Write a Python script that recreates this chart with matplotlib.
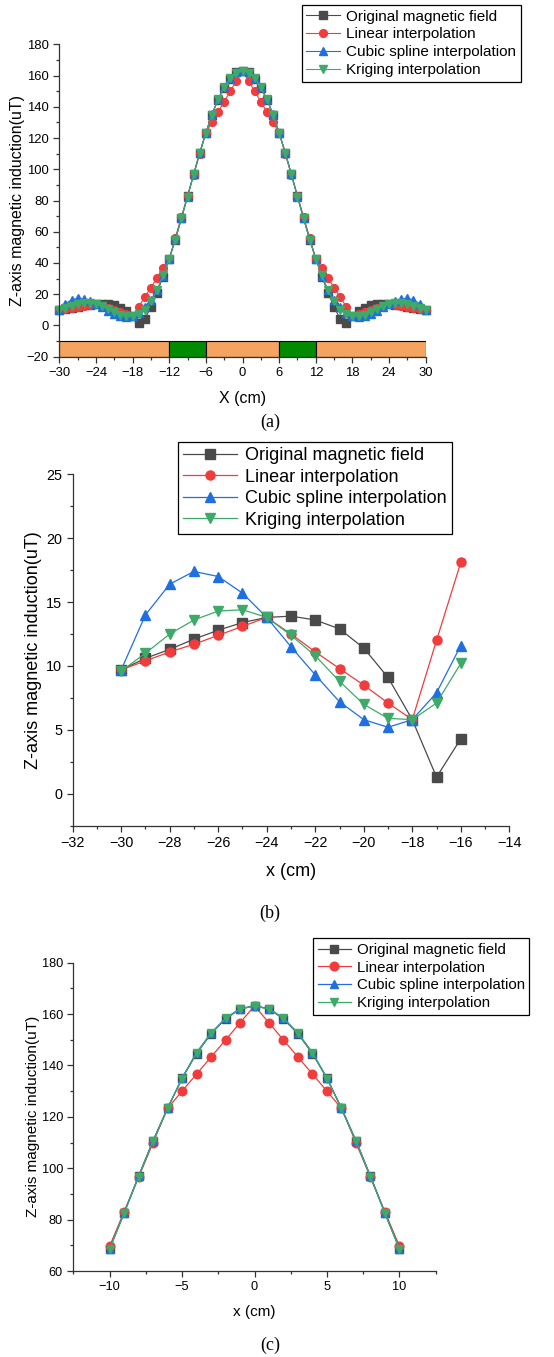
import matplotlib
matplotlib.use("Agg")
import matplotlib.pyplot as plt
from matplotlib.ticker import MultipleLocator
import numpy as np

plt.rcParams['font.family'] = ['Liberation Sans', 'DejaVu Sans']

# ---------------- data ----------------
x_full = list(range(-30, 31))

original = [9.7, 10.6, 11.3, 12.1, 12.8, 13.4, 13.8, 13.9, 13.6, 12.9, 11.4, 9.1, 5.8, 1.3, 4.3,
            11.7, 21.1, 31.3, 42.7, 54.8, 68.7, 82.6, 96.9, 110.6, 123.3, 135.0, 144.6, 152.3, 158.1, 162.0,
            163.2,
            162.0, 158.1, 152.3, 144.6, 135.0, 123.3, 110.6, 96.9, 82.6, 68.7, 54.8, 42.7, 31.3, 21.1, 11.7,
            4.3, 1.3, 5.8, 9.1, 11.4, 12.9, 13.6, 13.9, 13.8, 13.4, 12.8, 12.1, 11.3, 10.6, 9.7]

linear = [9.7, 10.4, 11.1, 11.7, 12.4, 13.1, 13.8, 12.5, 11.1, 9.8, 8.5, 7.1, 5.8, 12.0, 18.1,
          24.3, 30.4, 36.6, 42.7, 56.1, 69.6, 83.0, 96.4, 109.9, 123.3, 130.0, 136.6, 143.3, 149.9, 156.6,
          163.2,
          156.6, 149.9, 143.3, 136.6, 130.0, 123.3, 109.9, 96.4, 83.0, 69.6, 56.1, 42.7, 36.6, 30.4, 24.3,
          18.1, 12.0, 5.8, 7.1, 8.5, 9.8, 11.1, 12.5, 13.8, 13.1, 12.4, 11.7, 11.1, 10.4, 9.7]

cubic = [9.7, 14.0, 16.4, 17.4, 17.0, 15.7, 13.8, 11.5, 9.3, 7.2, 5.8, 5.2, 5.8, 7.9, 11.6,
         16.2, 22.6, 31.8, 42.7, 55.3, 68.6, 82.5, 96.8, 110.7, 123.3, 135.1, 145.0, 152.6, 158.4, 162.1,
         163.2,
         162.1, 158.4, 152.6, 145.0, 135.1, 123.3, 110.7, 96.8, 82.5, 68.6, 55.3, 42.7, 31.8, 22.6, 16.2,
         11.6, 7.9, 5.8, 5.2, 5.8, 7.2, 9.3, 11.5, 13.8, 15.7, 17.0, 17.4, 16.4, 14.0, 9.7]

kriging = [9.6, 11.0, 12.5, 13.6, 14.3, 14.4, 13.8, 12.4, 10.8, 8.8, 7.0, 5.9, 5.8, 7.1, 10.2,
           15.4, 22.5, 32.0, 42.7, 55.0, 68.5, 82.4, 96.7, 110.5, 123.3, 134.9, 144.8, 152.5, 158.3, 161.9,
           163.2,
           161.9, 158.3, 152.5, 144.8, 134.9, 123.3, 110.5, 96.7, 82.4, 68.5, 55.0, 42.7, 32.0, 22.5, 15.4,
           10.2, 7.1, 5.8, 5.9, 7.0, 8.8, 10.8, 12.4, 13.8, 14.4, 14.3, 13.6, 12.5, 11.0, 9.6]

series_names = ["Original magnetic field", "Linear interpolation",
                "Cubic spline interpolation", "Kriging interpolation"]

# bottom strip in panel (a)
strip_edges = [-30, -12, -6, 6, 12, 30]
strip_colors = ["#F4A460", "#008B00", "#F4A460", "#008B00", "#F4A460"]

# ---------------- style ----------------
colors = ["#4A4A4A", "#F03C3C", "#1F6FE0", "#3DAA6A"]
markers = ["s", "o", "^", "v"]
all_series = [original, linear, cubic, kriging]

W, H = 554, 1357
fig = plt.figure(figsize=(W / 100, H / 100), dpi=100)


def ax_rect(l, r, t, b):
    return [l / W, 1 - b / H, (r - l) / W, (b - t) / H]


def style_axes(ax, tick_fs):
    for s in ["top", "right"]:
        ax.spines[s].set_visible(False)
    for s in ["left", "bottom"]:
        ax.spines[s].set_color("#333333")
        ax.spines[s].set_linewidth(0.9)
    ax.tick_params(which="major", direction="out", length=4, width=0.9, colors="#333333",
                   labelsize=tick_fs, labelcolor="black")
    ax.tick_params(which="minor", direction="out", length=2.5, width=0.9, colors="#333333")


def draw_series(ax, idx0, idx1, ms, lw):
    xs = x_full[idx0:idx1]
    handles = []
    for vals, c, m, name in zip(all_series, colors, markers, series_names):
        h, = ax.plot(xs, vals[idx0:idx1], color=c, marker=m, markersize=ms, lw=lw,
                     markeredgecolor=c, label=name, clip_on=False)
        handles.append(h)
    return handles


def add_legend(handles, x, y, fs, hl):
    leg = fig.legend(handles=handles, loc="upper left", bbox_to_anchor=(x / W, 1 - y / H),
                     fontsize=fs, frameon=True, fancybox=False, framealpha=1,
                     edgecolor="black", handlelength=hl, borderpad=0.3, labelspacing=0.25,
                     handletextpad=0.4, borderaxespad=0)
    leg.get_frame().set_linewidth(0.9)
    return leg


# ---------------- panel (a) ----------------
axa = fig.add_axes(ax_rect(59.3, 425.7, 44.3, 356.7))
for i in range(len(strip_colors)):
    axa.bar(strip_edges[i], -10, width=strip_edges[i + 1] - strip_edges[i], bottom=-10,
            align="edge", color=strip_colors[i], edgecolor="black", linewidth=0.8, zorder=1)
ha = draw_series(axa, 0, 61, 5.6, 0.8)
axa.set_xlim(-30, 30)
axa.set_ylim(-20, 180)
axa.xaxis.set_major_locator(MultipleLocator(6))
axa.xaxis.set_minor_locator(MultipleLocator(3))
axa.yaxis.set_major_locator(MultipleLocator(20))
axa.yaxis.set_minor_locator(MultipleLocator(10))
style_axes(axa, 9.4)
axa.set_xlabel("X (cm)", fontsize=11.5, va="center")
axa.set_ylabel("Z-axis magnetic induction(uT)", fontsize=11.5, va="center")
axa.xaxis.set_label_coords(0.5, (356.7 - 398) / 312.4)
axa.yaxis.set_label_coords((18 - 59.3) / 366.4, 0.5)
add_legend(ha, 301.7, 5, 11, 2.2)
fig.text(270 / W, 1 - 422 / H, "(a)", ha="center", va="center", fontsize=13,
         family=["Liberation Serif", "DejaVu Serif"])

# ---------------- panel (b) ----------------
axb = fig.add_axes(ax_rect(72.7, 509.3, 474.3, 825.7))
hb = draw_series(axb, 0, 15, 6.5, 0.9)
axb.set_xlim(-32, -14)
axb.set_ylim(-2.5, 25)
axb.xaxis.set_major_locator(MultipleLocator(2))
axb.xaxis.set_minor_locator(MultipleLocator(1))
axb.yaxis.set_major_locator(MultipleLocator(5))
axb.yaxis.set_minor_locator(MultipleLocator(2.5))
style_axes(axb, 10.4)
axb.set_xlabel("x (cm)", fontsize=13, va="center")
axb.set_ylabel("Z-axis magnetic induction(uT)", fontsize=13, va="center")
axb.xaxis.set_label_coords(0.5, (825.7 - 871.7) / 351.4)
axb.yaxis.set_label_coords((33 - 72.7) / 436.6, 0.5)
add_legend(hb, 177.7, 441.7, 13, 3.0)
fig.text(270 / W, 1 - 913 / H, "(b)", ha="center", va="center", fontsize=13,
         family=["Liberation Serif", "DejaVu Serif"])

# ---------------- panel (c) ----------------
axc = fig.add_axes(ax_rect(73.3, 435.7, 962.7, 1271))
hc = draw_series(axc, 20, 41, 6.2, 0.9)
axc.set_xlim(-12.5, 12.5)
axc.set_ylim(60, 180)
axc.xaxis.set_major_locator(MultipleLocator(5))
axc.xaxis.set_minor_locator(MultipleLocator(2.5))
axc.yaxis.set_major_locator(MultipleLocator(20))
axc.yaxis.set_minor_locator(MultipleLocator(10))
style_axes(axc, 9.2)
axc.set_xlabel("x (cm)", fontsize=11, va="center")
axc.set_ylabel("Z-axis magnetic induction(uT)", fontsize=11, va="center")
axc.xaxis.set_label_coords(0.5, (1271 - 1311.7) / 308.3)
axc.yaxis.set_label_coords((33 - 73.3) / 362.4, 0.5)
add_legend(hc, 313.3, 938.3, 10.8, 2.2)
fig.text(270 / W, 1 - 1345 / H, "(c)", ha="center", va="center", fontsize=13,
         family=["Liberation Serif", "DejaVu Serif"])

fig.savefig("out.png", dpi=100)
